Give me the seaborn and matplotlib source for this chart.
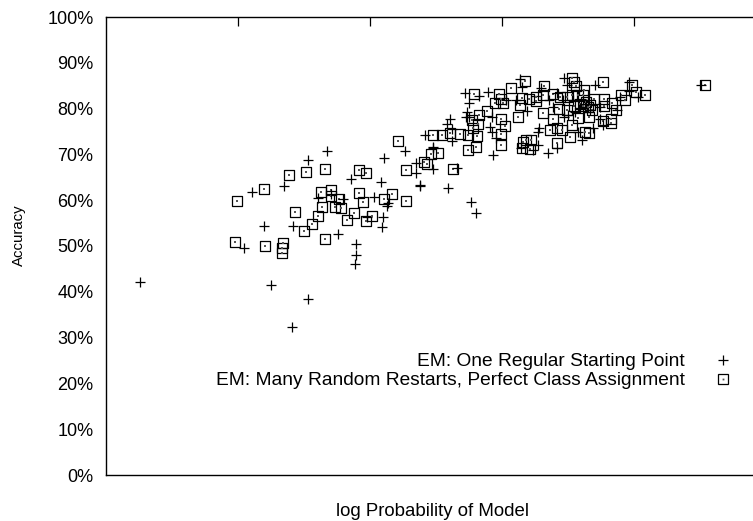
import matplotlib
matplotlib.use("Agg")
import matplotlib.pyplot as plt
import seaborn as sns
import pandas as pd
from matplotlib.ticker import FuncFormatter, FixedLocator
from matplotlib.legend_handler import HandlerTuple
from matplotlib.lines import Line2D

# ---- data (x: log probability of model, arbitrary units; y: accuracy in %) ----
one_start_x = [0.258, 2.417, 1.674, 1.530, 2.265, 2.106, 2.477, 2.348, 2.348, 2.477,
               2.379, 2.083, 1.856, 1.106, 1.348, 1.606, 1.705, 1.795, 2.030, 2.136,
               2.129, 1.977, 2.098, 2.091, 1.197, 1.417, 1.758, 1.045, 1.894, 1.894,
               1.886, 1.250, 1.530, 1.409,
               3.136, 3.470, 3.705, 3.962, 4.508, 2.720, 2.894, 2.826, 2.750, 3.030,
               3.106, 3.152, 3.295, 3.417, 3.492, 2.735, 2.727, 2.750, 2.606, 2.583,
               2.924, 3.189, 2.909, 2.924, 2.955, 2.621, 2.621, 2.477, 2.932, 3.280,
               3.273, 3.273, 3.235, 3.144, 3.348, 3.417, 3.470, 3.500, 3.576, 3.606,
               3.689, 3.742, 3.765, 3.742, 3.894, 4.030, 3.962, 3.871, 3.462, 3.538,
               3.356, 3.386, 2.379, 2.591, 2.765, 2.803, 2.659, 3.636, 3.667, 3.591,
               3.553]
one_start_y = [42.1, 74.2, 70.7, 68.8, 70.7, 69.2, 71.4, 68.1, 65.9, 66.8,
               63.3, 64.0, 64.6, 61.8, 63.1, 60.5, 61.4, 60.3, 60.7, 59.4,
               58.7, 56.3, 56.3, 54.1, 54.4, 54.4, 52.6, 49.6, 50.4, 48.0,
               46.1, 41.5, 38.4, 32.3,
               86.5, 86.7, 85.2, 85.8, 85.2, 83.4, 83.6, 82.8, 81.2, 81.9,
               81.9, 84.7, 84.5, 83.4, 85.2, 79.3, 78.2, 78.2, 77.7, 76.6,
               78.2, 79.5, 76.0, 74.9, 73.6, 75.5, 72.9, 71.6, 69.9, 75.8,
               74.9, 72.1, 71.0, 71.4, 70.3, 71.4, 78.2, 78.6, 74.9, 73.1,
               75.8, 77.7, 76.4, 80.3, 82.5, 82.5, 83.8, 79.7, 81.9, 81.9,
               81.9, 80.3, 63.1, 62.7, 59.6, 57.2, 67.0, 81.0, 79.7, 80.1,
               79.3]

restarts_x = [2.212, 2.477, 2.462, 2.515, 2.409, 2.432, 2.273, 1.917, 1.970, 1.659,
              1.515, 1.386, 1.197, 0.992, 1.629, 1.705, 1.705, 1.765, 1.917, 1.947,
              2.106, 2.167, 2.273, 1.636, 1.735, 1.780, 1.432, 1.606, 1.561, 1.500,
              1.879, 1.826, 1.970, 2.015, 1.659, 0.977, 1.205, 1.341, 1.333, 1.333,
              3.174, 3.068, 3.318, 3.530, 3.545, 3.561, 3.621, 3.765, 3.985, 4.015,
              4.083, 3.932, 3.902, 4.538, 2.788, 2.977, 2.992, 2.947, 3.008, 2.886,
              2.826, 2.773, 2.818, 2.780, 2.992, 3.023, 2.992, 2.992, 2.811, 2.742,
              2.682, 2.606, 2.545, 2.803, 2.742, 2.629, 3.121, 3.136, 3.152, 3.205,
              3.258, 3.258, 3.311, 3.386, 3.439, 3.492, 3.530, 3.576, 3.614, 3.311,
              3.432, 3.492, 3.545, 3.614, 3.652, 3.667, 3.697, 3.773, 3.773, 3.833,
              3.864, 3.386, 3.576, 3.659, 3.530, 3.364, 3.417, 3.455, 3.515, 3.629,
              3.659, 3.765, 3.826, 3.826, 3.159, 3.182, 3.220, 3.152, 3.212, 3.417,
              3.636, 3.682, 3.591]
restarts_y = [72.9, 74.2, 70.1, 70.3, 68.3, 67.9, 66.6, 66.6, 65.9, 66.8,
              66.2, 65.5, 62.4, 59.8, 61.8, 62.2, 60.9, 60.3, 61.6, 59.6,
              60.3, 61.4, 59.8, 58.5, 58.5, 58.3, 57.4, 56.6, 54.8, 53.3,
              57.2, 55.7, 55.5, 56.6, 51.5, 50.9, 50.0, 50.7, 49.6, 48.5,
              86.0, 84.5, 84.9, 86.6, 85.9, 84.9, 84.1, 85.8, 85.2, 83.6,
              82.9, 81.9, 82.9, 85.2, 83.2, 83.2, 82.1, 81.2, 81.2, 79.5,
              78.6, 77.5, 76.6, 75.8, 77.7, 76.2, 74.5, 72.1, 74.0, 74.2,
              74.5, 74.7, 74.2, 71.6, 71.0, 66.8, 78.2, 80.8, 82.3, 82.1,
              82.5, 81.7, 82.9, 83.2, 82.5, 82.5, 82.9, 82.9, 82.9, 79.0,
              79.9, 79.7, 80.6, 80.6, 80.3, 80.8, 82.1, 82.1, 80.6, 81.2,
              79.7, 77.7, 77.9, 78.2, 76.4, 75.3, 75.8, 75.3, 73.8, 74.9,
              74.7, 77.3, 77.7, 76.9, 72.7, 73.1, 73.1, 71.4, 71.2, 72.5,
              81.4, 79.7, 81.0]

label_one = "EM: One Regular Starting Point"
label_many = "EM: Many Random Restarts, Perfect Class Assignment"
y_ticks = [0, 10, 20, 30, 40, 50, 60, 70, 80, 90, 100]
x_ticks = [1, 2, 3, 4]

df_one = pd.DataFrame({"logp": one_start_x, "acc": one_start_y})
df_many = pd.DataFrame({"logp": restarts_x, "acc": restarts_y})

sns.set_style("white")
plt.rcParams["font.family"] = ["Liberation Sans", "DejaVu Sans"]
plt.rcParams["text.color"] = "black"
plt.rcParams["axes.labelcolor"] = "black"
FS = 13.4

fig = plt.figure(figsize=(7.53, 5.21), dpi=100)
ax = fig.add_axes([106 / 753, 46 / 521, 660 / 753, 458 / 521])

sns.scatterplot(data=df_one, x="logp", y="acc", ax=ax, marker="+", s=48,
                color="black", linewidth=0.9, legend=False, zorder=3)
sns.scatterplot(data=df_many, x="logp", y="acc", ax=ax, marker="s", s=52,
                facecolor="none", edgecolor="black", linewidth=0.9,
                legend=False, zorder=2)
sns.scatterplot(data=df_many, x="logp", y="acc", ax=ax, marker="s", s=1.6,
                color="#555555", linewidth=0, zorder=2, legend=False)

ax.set_xlim(0, 5)
ax.set_ylim(0, 100)
ax.xaxis.set_major_locator(FixedLocator(x_ticks))
ax.yaxis.set_major_locator(FixedLocator(y_ticks))
ax.set_xticklabels([])
ax.yaxis.set_major_formatter(FuncFormatter(lambda v, p: f"{int(v)}%"))
ax.tick_params(axis="both", direction="in", length=6.5, width=0.9,
               top=True, right=True, labelsize=13, colors="black")
ax.tick_params(axis="y", pad=9)
for sp in ax.spines.values():
    sp.set_linewidth(1.0)
    sp.set_color("black")

ax.set_xlabel("log Probability of Model", fontsize=FS, color="black")
ax.set_ylabel("Accuracy", fontsize=10.8, color="black")
ax.xaxis.set_label_coords(0.495, -0.062)
ax.yaxis.set_label_coords(-0.121, 0.524)

# legend, gnuplot style: text right-aligned, sample on right
h_plus = Line2D([], [], marker="+", color="black", linestyle="none",
                markersize=6.5, markeredgewidth=0.9)
h_sq = Line2D([], [], marker="s", markerfacecolor="none", markeredgecolor="black",
              linestyle="none", markersize=6.5, markeredgewidth=0.9)
h_dot = Line2D([], [], marker="s", color="#555555", linestyle="none",
               markersize=1.3, markeredgewidth=0)
leg = ax.legend([h_plus, (h_sq, h_dot)], [label_one, label_many],
                handler_map={tuple: HandlerTuple(ndivide=1)},
                markerfirst=False, frameon=False, fontsize=13.8,
                loc="upper right", bbox_transform=fig.transFigure,
                bbox_to_anchor=(742 / 753, 1 - 353 / 521),
                handlelength=2.0, handletextpad=1.0, labelspacing=0.08,
                borderpad=0, borderaxespad=0)
for t in leg.get_texts():
    t.set_color("black")

fig.savefig("out.png", dpi=100)
